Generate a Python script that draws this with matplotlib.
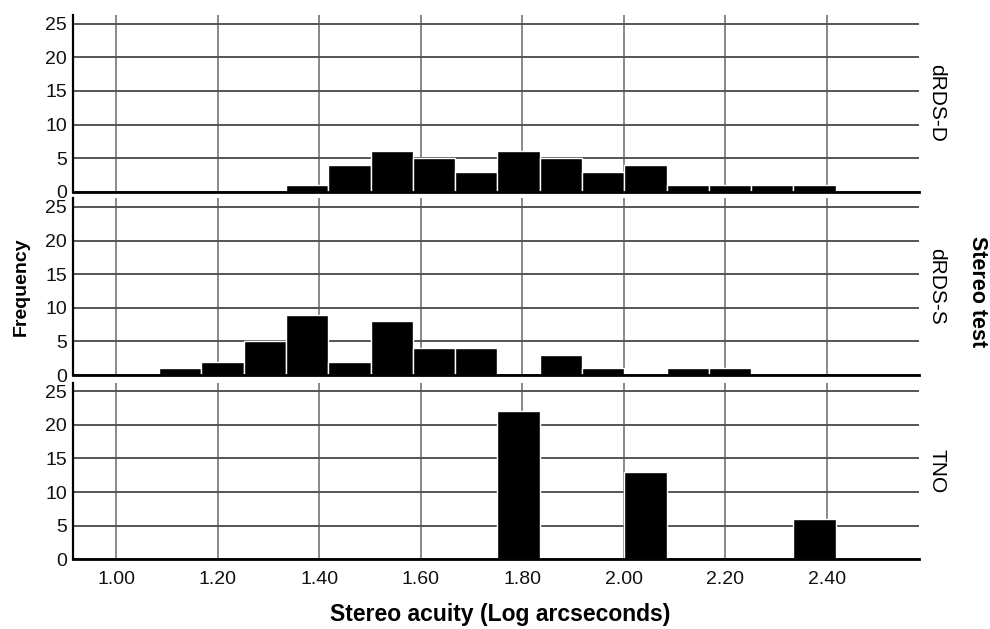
import numpy as np
import matplotlib
matplotlib.use("Agg")
import matplotlib.pyplot as plt

plt.rcParams["font.family"] = ["Liberation Sans", "DejaVu Sans"]

# histogram bins (log arcseconds), shared by all three panels
bin_start = 1.0847
bin_width = 1 / 12
n_bins = 16

# counts per bin for each stereo test
tests = ["dRDS-D", "dRDS-S", "TNO"]
counts_drds_d = [0, 0, 0, 1, 4, 6, 5, 3, 6, 5, 3, 4, 1, 1, 1, 1]
counts_drds_s = [1, 2, 5, 9, 2, 8, 4, 4, 0, 3, 1, 0, 1, 1, 0, 0]
counts_tno = [0, 0, 0, 0, 0, 0, 0, 0, 22, 0, 0, 13, 0, 0, 0, 6]

x_ticks = [1.00, 1.20, 1.40, 1.60, 1.80, 2.00, 2.20, 2.40]
y_ticks = [0, 5, 10, 15, 20, 25]

edges = bin_start + bin_width * np.arange(n_bins + 1)

fig = plt.figure(figsize=(9.9, 6.29), dpi=100)

# panel positions (figure fraction): left, bottom, width, height
left, width, height = 0.0740, 0.8542, 0.2810
bottoms = [0.6952, 0.4038, 0.1108]

for i, (name, counts) in enumerate(zip(tests, [counts_drds_d, counts_drds_s, counts_tno])):
    ax = fig.add_axes([left, bottoms[i], width, height])
    counts = np.array(counts)
    keep = counts > 0
    ax.bar(edges[:-1][keep], counts[keep], width=bin_width, align="edge",
           color="black", edgecolor="white", linewidth=1.0, zorder=2)

    ax.set_xlim(0.9153, 2.582)
    ax.set_ylim(0, 26.3)
    ax.set_xticks(x_ticks)
    ax.set_yticks(y_ticks)
    ax.set_axisbelow(True)
    ax.xaxis.grid(True, color="#6a6a6a", linewidth=1.1)
    ax.yaxis.grid(True, color="#555555", linewidth=1.4)

    for s in ["top", "right"]:
        ax.spines[s].set_visible(False)
    ax.spines["left"].set_linewidth(1.6)
    ax.spines["bottom"].set_linewidth(2.0)
    ax.spines["left"].set_zorder(3)
    ax.spines["bottom"].set_zorder(3)

    ax.tick_params(axis="both", length=0, labelsize=14, colors="#111111")
    ax.tick_params(axis="y", pad=4.6)
    ax.tick_params(axis="x", pad=8.3)
    if i < 2:
        ax.tick_params(axis="x", labelbottom=False)
    else:
        ax.set_xticklabels([f"{t:.2f}" for t in x_ticks])

    # panel label on the right
    y_mid = bottoms[i] + height / 2
    fig.text(937 / 990, y_mid, name, rotation=-90, ha="center", va="center",
             fontsize=15)

fig.text(500 / 990, 1 - 615 / 629, "Stereo acuity (Log arcseconds)",
         ha="center", va="center", fontsize=16.5, fontweight="bold")
fig.text(21 / 990, 1 - 287 / 629, "Frequency", rotation=90,
         ha="center", va="center", fontsize=14, fontweight="bold")
fig.text(978 / 990, 1 - 292 / 629, "Stereo test", rotation=-90,
         ha="center", va="center", fontsize=15.5, fontweight="bold")

fig.savefig("out.png", dpi=100)
